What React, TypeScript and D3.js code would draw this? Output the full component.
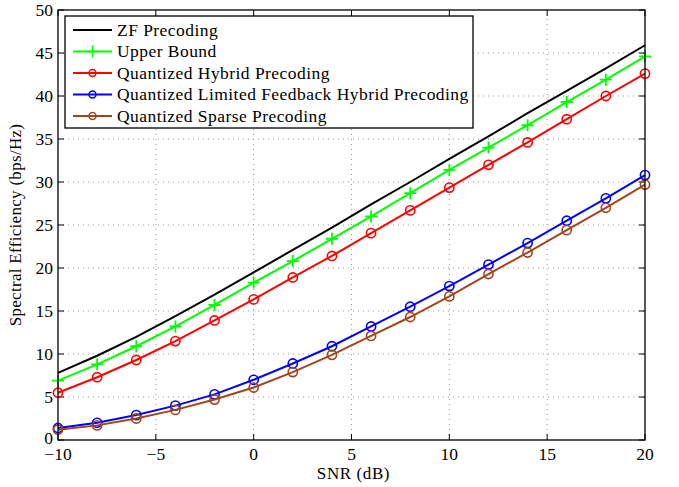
import React from "react";
import * as d3 from "d3";

// SNR points (dB)
const snr = [-10, -8, -6, -4, -2, 0, 2, 4, 6, 8, 10, 12, 14, 16, 18, 20];

const zfPrecoding = [7.8, 9.8, 12.0, 14.4, 16.9, 19.5, 22.1, 24.7, 27.4, 30.0, 32.7, 35.3, 38.0, 40.6, 43.2, 45.9];
const upperBound = [6.9, 8.8, 10.9, 13.2, 15.7, 18.3, 20.8, 23.4, 26.0, 28.7, 31.4, 34.0, 36.6, 39.3, 41.9, 44.6];
const quantHybrid = [5.5, 7.3, 9.3, 11.5, 13.9, 16.35, 18.9, 21.4, 24.05, 26.7, 29.35, 32.0, 34.6, 37.3, 40.0, 42.6];
const quantLimited = [1.4, 2.0, 2.9, 4.0, 5.3, 7.0, 8.9, 10.9, 13.2, 15.5, 17.9, 20.4, 22.9, 25.5, 28.1, 30.8];
const quantSparse = [1.2, 1.7, 2.5, 3.5, 4.7, 6.1, 7.9, 9.9, 12.1, 14.3, 16.7, 19.3, 21.8, 24.4, 27.0, 29.7];

const xTicks = [-10, -5, 0, 5, 10, 15, 20];
const yTicks = [0, 5, 10, 15, 20, 25, 30, 35, 40, 45, 50];

const series = [
  { name: "ZF Precoding", values: zfPrecoding, color: "#000000", marker: "none" },
  { name: "Upper Bound", values: upperBound, color: "#00ff00", marker: "plus" },
  { name: "Quantized Hybrid Precoding", values: quantHybrid, color: "#ff0000", marker: "circle" },
  { name: "Quantized Limited Feedback Hybrid Precoding", values: quantLimited, color: "#0000ff", marker: "circle" },
  { name: "Quantized Sparse Precoding", values: quantSparse, color: "#a0461a", marker: "circle" },
];

const W = 679;
const H = 487;
const margin = { left: 58, right: 34, top: 10, bottom: 47 };
const font = '"Liberation Serif", "Times New Roman", Times, serif';

const Marker = ({ type, x, y, color }: { type: string; x: number; y: number; color: string }) => {
  if (type === "circle")
    return <circle cx={x} cy={y} r={4.6} fill="none" stroke={color} strokeWidth={1.6} />;
  if (type === "plus")
    return (
      <path
        d={`M${x - 6},${y}H${x + 6}M${x},${y - 6}V${y + 6}`}
        stroke={color}
        strokeWidth={1.8}
        fill="none"
      />
    );
  return null;
};

export default function App() {
  const x = d3.scaleLinear().domain([-10, 20]).range([margin.left, W - margin.right]);
  const y = d3.scaleLinear().domain([0, 50]).range([H - margin.bottom, margin.top]);
  const x0 = x.range()[0], x1 = x.range()[1];
  const y0 = y.range()[0], y1 = y.range()[1];

  const line = d3
    .line<number>()
    .x((_, i) => x(snr[i]))
    .y((d) => y(d));

  const legend = { x: 65, y: 16, w: 408, h: 112, row: 21.5 };

  return (
    <svg width={W} height={H} style={{ position: "absolute", left: 0, top: 0, fontFamily: font }}>
      <rect x={0} y={0} width={W} height={H} fill="#fff" />
      {/* grid */}
      <g stroke="#999" strokeWidth={1} strokeDasharray="1,4">
        {xTicks.slice(1, -1).map((t) => (
          <line key={"gx" + t} x1={x(t)} x2={x(t)} y1={y0} y2={y1} />
        ))}
        {yTicks.slice(1, -1).map((t) => (
          <line key={"gy" + t} x1={x0} x2={x1} y1={y(t)} y2={y(t)} />
        ))}
      </g>
      {/* ticks */}
      <g stroke="#000" strokeWidth={1}>
        {xTicks.map((t) => (
          <g key={"tx" + t}>
            <line x1={x(t)} x2={x(t)} y1={y0} y2={y0 - 6} />
            <line x1={x(t)} x2={x(t)} y1={y1} y2={y1 + 6} />
          </g>
        ))}
        {yTicks.map((t) => (
          <g key={"ty" + t}>
            <line x1={x0} x2={x0 + 6} y1={y(t)} y2={y(t)} />
            <line x1={x1} x2={x1 - 6} y1={y(t)} y2={y(t)} />
          </g>
        ))}
      </g>
      {/* series */}
      {series.map((s) => (
        <g key={s.name}>
          <path d={line(s.values) || ""} fill="none" stroke={s.color} strokeWidth={2} />
          {s.values.map((v, i) => (
            <Marker key={i} type={s.marker} x={x(snr[i])} y={y(v)} color={s.color} />
          ))}
        </g>
      ))}
      {/* box */}
      <rect x={x0} y={y1} width={x1 - x0} height={y0 - y1} fill="none" stroke="#000" strokeWidth={1.3} />
      {/* tick labels */}
      <g fontSize={17.5} fill="#000" style={{ fontFamily: font }}>
        {xTicks.map((t) => (
          <text key={"lx" + t} x={x(t)} y={y0 + 20} textAnchor="middle">
            {t < 0 ? "\u2212" + Math.abs(t) : t}
          </text>
        ))}
        {yTicks.map((t) => (
          <text key={"ly" + t} x={x0 - 5} y={y(t) + (t === 0 ? 4 : 6)} textAnchor="end">
            {t}
          </text>
        ))}
      </g>
      <text x={(x0 + x1) / 2 + 2} y={y0 + 39} textAnchor="middle" fontSize={17} letterSpacing={0.6} style={{ fontFamily: font }}>
        SNR (dB)
      </text>
      <text
        transform={`translate(21,${(y0 + y1) / 2}) rotate(-90)`}
        textAnchor="middle"
        fontSize={17}
        letterSpacing={0.3}
        style={{ fontFamily: font }}
      >
        Spectral Efficiency (bps/Hz)
      </text>
      {/* legend */}
      <rect x={legend.x} y={legend.y} width={legend.w} height={legend.h} fill="#fff" stroke="#000" strokeWidth={1.3} />
      {series.map((s, i) => {
        const ly = legend.y + 14 + i * legend.row;
        return (
          <g key={"lg" + s.name}>
            <line x1={73} x2={112} y1={ly} y2={ly} stroke={s.color} strokeWidth={2} />
            {s.marker === "circle" ? (
              <circle cx={92.5} cy={ly} r={3.5} fill="none" stroke={s.color} strokeWidth={1.5} />
            ) : s.marker === "plus" ? (
              <path d={`M${86.5},${ly}H${98.5}M${92.5},${ly - 6}V${ly + 6}`} stroke={s.color} strokeWidth={1.6} />
            ) : null}
            <text x={117} y={ly + 5.5} fontSize={17.5} letterSpacing={0.45} style={{ fontFamily: font }}>
              {s.name}
            </text>
          </g>
        );
      })}
    </svg>
  );
}
